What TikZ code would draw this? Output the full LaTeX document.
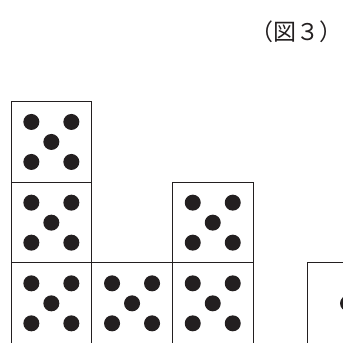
\documentclass[tikz,border=0pt]{standalone}
\usepackage{fontspec}
\newfontfamily\cjk{Noto Sans CJK JP}
\usepackage{xcolor}
\usepackage{tikz}
\usetikzlibrary{positioning}
\definecolor{ink}{HTML}{231F20}
% five pips on one face
\newcommand{\fivepips}[1]{%
  \foreach \dx/\dy in {-20/20,20/20,0/0,-20/-20,20/-20}
    \fill[pip] ([shift={(\dx pt,\dy pt)}]#1.center) circle[radius=8pt];}

\begin{document}
\begin{tikzpicture}[x=1pt,y=1pt,
  die/.style={draw=ink,line width=1pt,minimum size=80.7pt,inner sep=0pt,outer sep=0pt},
  pip/.style={fill=ink}
]
\useasboundingbox (0,0) rectangle (343,343);
\clip (0,0) rectangle (343,343);
\node[font=\cjk\fontsize{23}{27}\selectfont,text=ink,inner sep=0pt] (title) at (296,311) {（図３）};
\node[die] (a1) at (51.35,39.65) {};
\node[die,above=0pt of a1] (a2) {};
\node[die,above=0pt of a2] (a3) {};
\node[die,right=0pt of a1] (b1) {};
\node[die,right=0pt of b1] (c1) {};
\node[die,above=0pt of c1] (c2) {};
\node[die,right=54.6pt of c1] (d1) {};
\foreach \n in {a1,a2,a3,b1,c1,c2} {\fivepips{\n}}
\fill[pip] (d1.center) circle[radius=8pt];
\end{tikzpicture}
\end{document}
